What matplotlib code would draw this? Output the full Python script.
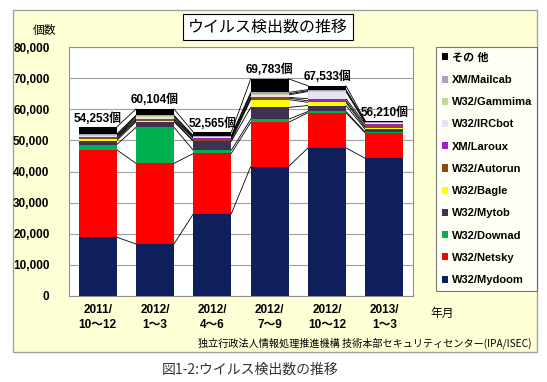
import matplotlib
matplotlib.use("Agg")
import matplotlib.pyplot as plt
from matplotlib.patches import Rectangle, Patch
import numpy as np

plt.rcParams['font.family'] = ['Liberation Sans', 'Noto Sans CJK JP', 'DejaVu Sans']

categories = ["2011/\n10～12", "2012/\n1～3", "2012/\n4～6", "2012/\n7～9", "2012/\n10～12", "2013/\n1～3"]
totals = [54253, 60104, 52565, 69783, 67533, 56210]
series_names = ["W32/Mydoom", "W32/Netsky", "W32/Downad", "W32/Mytob", "W32/Bagle",
                "W32/Autorun", "XM/Laroux", "W32/IRCbot", "W32/Gammima", "XM/Mailcab", "その 他"]
mydoom  = [18900, 16700, 26400, 41600, 47600, 44200]
netsky  = [28100, 25900, 19400, 14200, 11300, 8100]
downad  = [1600, 11600, 1000, 1000, 400, 300]
mytob   = [1300, 1800, 2900, 3800, 1900, 900]
bagle   = [500, 300, 200, 2500, 1000, 500]
autorun = [400, 400, 700, 500, 500, 500]
laroux  = [300, 200, 100, 200, 700, 700]
ircbot  = [300, 500, 300, 800, 2300, 300]
gammima = [300, 400, 200, 300, 300, 200]
mailcab = [300, 300, 300, 500, 300, 200]
other   = [2253, 2004, 1065, 4383, 1233, 310]
yticks = [0, 10000, 20000, 30000, 40000, 50000, 60000, 70000, 80000]

series = [mydoom, netsky, downad, mytob, bagle, autorun, laroux, ircbot, gammima, mailcab, other]
colors = ["#0f1f5c", "#ff0000", "#00b050", "#3f3151", "#ffff00", "#8b4a14",
          "#a020d0", "#e4e4ec", "#c4d79b", "#a8a4bc", "#000000"]

W, H = 547, 382
fig = plt.figure(figsize=(W/100, H/100), dpi=100)
fig.patch.set_facecolor("white")

# outer panel
fig.patches.append(Rectangle((13/W, 1-352/H), (537-13)/W, (352-10)/H, transform=fig.transFigure,
                             facecolor="#ffffd6", edgecolor="#9aa4a4", lw=1.0, zorder=-5))

ax = fig.add_axes([69/W, 1-296/H, 344/W, (296-47)/H])
ax.set_zorder(2)
ax.set_facecolor("white")
x = np.arange(len(categories))
bw = 0.66
bottom = np.zeros(len(categories))
handles = []
for s, c, n in zip(series, colors, series_names):
    vals = np.array(s, dtype=float)
    ax.bar(x, vals, bw, bottom=bottom, color=c, edgecolor="none", zorder=3)
    bottom = bottom + vals
    # series connector lines
    for i in range(len(x) - 1):
        ax.plot([x[i] + bw/2, x[i+1] - bw/2], [bottom[i], bottom[i+1]], color="black", lw=0.6, zorder=2)
    handles.append(Patch(facecolor=c, edgecolor="none", label=n))

ax.set_xlim(-0.5, len(categories) - 0.5)
ax.set_ylim(0, 80000)
ax.set_yticks(yticks)
ax.set_yticklabels(["{:,}".format(v) for v in yticks], fontsize=8.5, fontweight="bold")
ax.set_xticks(x)
ax.set_xticklabels(categories, fontsize=8.5, fontweight="bold", linespacing=1.3)
ax.tick_params(axis="both", length=0, pad=6)
ax.tick_params(axis="y", pad=14)
ax.yaxis.grid(True, color="#a0a0a0", lw=0.8, zorder=1)
ax.set_axisbelow(True)
for sp in ax.spines.values():
    sp.set_color("#909090")
    sp.set_linewidth(0.8)

for i, t in enumerate(totals):
    ax.text(x[i], t + 800, "{:,}個".format(t), ha="center", va="bottom", fontsize=8.5, fontweight="bold", zorder=5)

leg = fig.legend(handles[::-1], [h.get_label() for h in handles[::-1]], loc="upper left",
                 bbox_to_anchor=(436/W, 1-47/H), bbox_transform=fig.transFigure,
                 prop={"weight": "bold", "size": 8}, frameon=True, fancybox=False,
                 edgecolor="#555555", handlelength=0.6, handleheight=0.6, handletextpad=0.3,
                 labelspacing=1.1, borderpad=0.5, borderaxespad=0)
leg.get_frame().set_linewidth(0.8)
leg.get_frame().set_facecolor("white")
leg.set_zorder(3)

fig.text(268/W, 1-27/H, "ウイルス検出数の推移", ha="center", va="center", fontsize=11.5,
         family=["Noto Sans CJK JP"],
         bbox=dict(boxstyle="square,pad=0.3", facecolor="white", edgecolor="black", lw=0.8))
fig.text(45/W, 1-30/H, "個数", ha="center", va="center", fontsize=8.5, family=["Noto Sans CJK JP"])
fig.text(430/W, 1-313/H, "年月", ha="left", va="center", fontsize=8.5, family=["Noto Sans CJK JP"])
fig.text(531/W, 1-343/H, "独立行政法人情報処理推進機構 技術本部セキュリティセンター(IPA/ISEC)",
         ha="right", va="center", fontsize=7.3, family=["Noto Sans CJK JP"])
fig.text(250/W, 1-370/H, "図1-2:ウイルス検出数の推移", ha="center", va="center", fontsize=10,
         color="#333333", family=["Noto Sans CJK JP"])

fig.savefig("out.png", dpi=100, facecolor="white")
